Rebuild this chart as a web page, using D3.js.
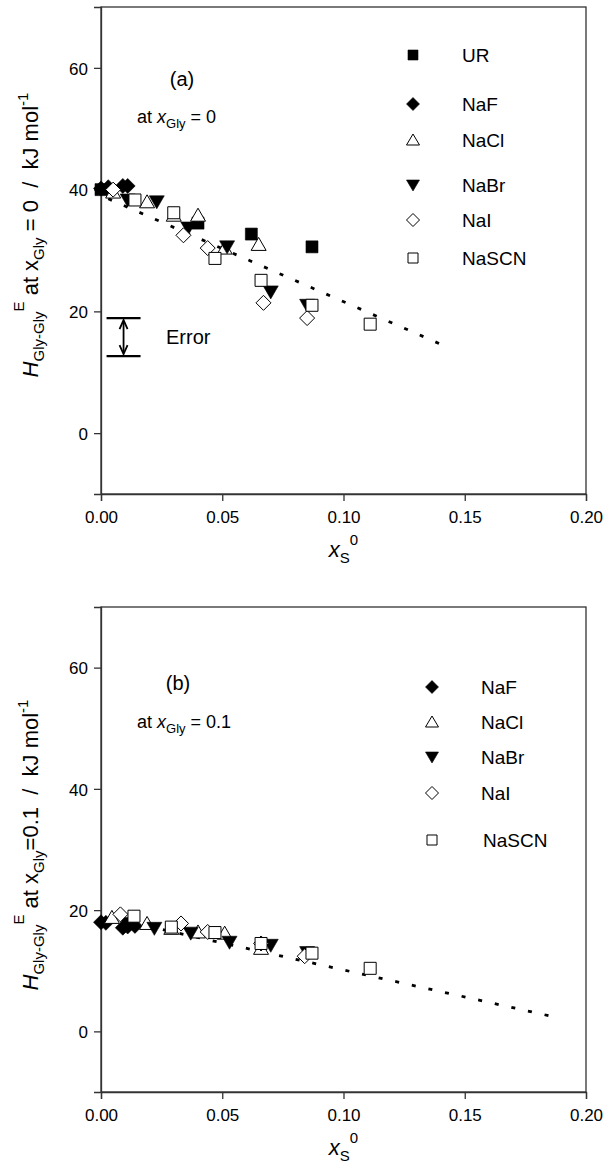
<!DOCTYPE html>
<html>
<head>
<meta charset="utf-8">
<script src="https://cdn.jsdelivr.net/npm/d3@7"></script>
<style>
  body { margin: 0; background: #fff; }
  svg { display: block; font-family: "Liberation Sans", Arial, sans-serif; }
  text { white-space: pre; fill: #000; }
</style>
</head>
<body>
<svg width="611" height="1173"></svg>
<script>
// Axis ticks
const xTicks = [0, 0.05, 0.10, 0.15, 0.20]
const yTicks = [0, 20, 40, 60]

// Panel (a): at x_Gly = 0
const urA    = [[0, 40.0], [0.040, 34.5], [0.062, 32.7], [0.087, 30.6]]
const nafA   = [[0, 40.2], [0.003, 40.4], [0.009, 40.6], [0.011, 40.6]]
const naclA  = [[0.005, 39.6], [0.019, 38.0], [0.030, 35.8], [0.040, 35.8], [0.051, 30.4], [0.065, 31.0]]
const nabrA  = [[0.011, 38.3], [0.023, 38.0], [0.036, 33.7], [0.052, 30.6], [0.070, 23.2], [0.085, 21.0]]
const naiA   = [[0.005, 40.0], [0.034, 32.5], [0.044, 30.4], [0.067, 21.4], [0.085, 18.9]]
const nascnA = [[0.014, 38.3], [0.030, 36.2], [0.047, 28.7], [0.066, 25.1], [0.087, 21.0], [0.111, 17.9]]
const fitA   = [[0.003, 38.5], [0.143, 14.1]]
const errorA = [0.0093, 12.65, 18.9]

// Panel (b): at x_Gly = 0.1
const nafB   = [[0, 18.0], [0.002, 17.9], [0.009, 17.1], [0.011, 17.3], [0.014, 17.4]]
const naclB  = [[0.0045, 18.8], [0.019, 17.8], [0.029, 17.0], [0.040, 16.4], [0.051, 16.2], [0.066, 13.7]]
const nabrB  = [[0.011, 17.8], [0.022, 17.0], [0.037, 16.2], [0.053, 14.7], [0.070, 14.2], [0.085, 13.0]]
const naiB   = [[0.008, 19.3], [0.033, 17.8], [0.044, 16.4], [0.066, 14.5], [0.084, 12.4]]
const nascnB = [[0.0136, 19.0], [0.029, 17.2], [0.047, 16.3], [0.066, 14.5], [0.087, 12.9], [0.111, 10.4]]
const fitB   = [[0.005, 18.6], [0.189, 2.2]]

const seriesA = [
  { name: 'UR', shape: 'square', fill: true, data: urA },
  { name: 'NaF', shape: 'diamond', fill: true, data: nafA },
  { name: 'NaCl', shape: 'up', fill: false, data: naclA },
  { name: 'NaBr', shape: 'down', fill: true, data: nabrA },
  { name: 'NaI', shape: 'diamond', fill: false, data: naiA },
  { name: 'NaSCN', shape: 'square', fill: false, data: nascnA },
]
const seriesB = [
  { name: 'NaF', shape: 'diamond', fill: true, data: nafB },
  { name: 'NaCl', shape: 'up', fill: false, data: naclB },
  { name: 'NaBr', shape: 'down', fill: true, data: nabrB },
  { name: 'NaI', shape: 'diamond', fill: false, data: naiB },
  { name: 'NaSCN', shape: 'square', fill: false, data: nascnB },
]

const svg = d3.select('svg')
const left = 101, right = 586

function shapePath(shape, s) {
  const h = s / 2
  if (shape === 'square') return `M${-h},${-h}H${h}V${h}H${-h}Z`
  if (shape === 'diamond') return `M0,${-h - 1.5}L${h + 1.5},0L0,${h + 1.5}L${-h - 1.5},0Z`
  if (shape === 'up') return `M0,${-h - 1}L${h + 1.5},${h}L${-h - 1.5},${h}Z`
  return `M0,${h + 1}L${h + 1.5},${-h}L${-h - 1.5},${-h}Z`
}

function drawMarker(g, d, x, y, size) {
  g.append('path')
    .attr('transform', `translate(${x},${y})`)
    .attr('d', shapePath(d.shape, size))
    .attr('fill', d.fill ? '#000' : '#fff')
    .attr('stroke', '#000')
    .attr('stroke-width', d.fill ? 0.6 : 1)
}

// parts: [text, size, dy, italic]
function richText(sel, parts) {
  parts.forEach(p => {
    sel.append('tspan')
      .attr('font-size', p[1])
      .attr('dy', p[2] || 0)
      .attr('font-style', p[3] ? 'italic' : null)
      .text(p[0])
  })
  return sel
}

function panel(top, bottom, series, fit, opts) {
  const x = d3.scaleLinear().domain([0, 0.2]).range([left, right])
  const y = d3.scaleLinear().domain([-10, 70]).range([bottom, top])
  const g = svg.append('g')

  // frame
  g.append('rect')
    .attr('x', left).attr('y', top)
    .attr('width', right - left).attr('height', bottom - top)
    .attr('fill', 'none').attr('stroke', '#333').attr('stroke-width', 1.3)

  const xAxis = g.append('g')
    .attr('transform', `translate(0,${bottom})`)
    .call(d3.axisBottom(x).tickValues(xTicks).tickFormat(d3.format('.2f')).tickSize(7).tickPadding(10))
  const yAxis = g.append('g')
    .attr('transform', `translate(${left},0)`)
    .call(d3.axisLeft(y).tickValues(yTicks).tickSize(7).tickPadding(6))
  ;[xAxis, yAxis].forEach(a => {
    a.select('.domain').attr('stroke', '#333').attr('stroke-width', 1.3)
    a.selectAll('.tick line').attr('stroke', '#333').attr('stroke-width', 1.3)
    a.selectAll('.tick text').attr('font-size', 17).attr('font-family', '"Liberation Sans", Arial, sans-serif').attr('fill', '#000')
  })
  yAxis.selectAll('.tick text').attr('dy', '0.36em')

  // fitted dotted line
  g.append('path')
    .datum(fit)
    .attr('d', d3.line().x(d => x(d[0])).y(d => y(d[1])))
    .attr('fill', 'none').attr('stroke', '#000')
    .attr('stroke-width', 2.8).attr('stroke-dasharray', '4,13')

  // markers
  series.forEach(s => {
    s.data.forEach(d => drawMarker(g, s, x(d[0]), y(d[1]), 12))
  })

  // legend
  opts.legend.forEach((l, i) => {
    drawMarker(g, series[i], l[0], l[1], 10)
    g.append('text').attr('x', l[2]).attr('y', l[1]).attr('dy', '0.36em')
      .attr('font-size', 19).text(series[i].name)
  })

  // panel tag and condition
  g.append('text').attr('x', opts.tag[0]).attr('y', opts.tag[1])
    .attr('font-size', 20).attr('text-anchor', 'middle').text(opts.tag[2])
  richText(g.append('text').attr('x', opts.cond[0]).attr('y', opts.cond[1]), [
    ['at ', 18], ['x', 18, 0, true], ['Gly', 13, 5], [opts.cond[2], 18, -5],
  ])

  // x-axis title
  richText(g.append('text').attr('x', x(0.1)).attr('y', bottom + 63).attr('text-anchor', 'middle'), [
    ['x', 22, 0, true], ['S', 15, 6], ['0', 15, -18],
  ])

  // y-axis title
  richText(g.append('text')
    .attr('transform', `translate(38,${opts.ylabY}) rotate(-90)`)
    .attr('text-anchor', 'middle'), [
    ['H', 22, 0, true], ['Gly-Gly', 15, 6], ['E', 15, -20], [' at x', 22, 14],
    ['Gly', 15, 6], [opts.ylabTail, 22, -6], ['-1', 15, -10],
  ])

  return { x, y, g }
}

const pa = panel(7, 494, seriesA, fitA, {
  legend: [[413, 55, 462], [413, 104, 462], [413, 140, 462], [413, 185, 462], [413, 220, 462], [413, 258, 462]],
  tag: [182, 86, '(a)'],
  cond: [137, 123, ' = 0'],
  ylabY: 235,
  ylabTail: ' = 0  /  kJ mol',
})

// error bar in panel (a)
{
  const ex = pa.x(errorA[0]), lo = pa.y(errorA[1]), hi = pa.y(errorA[2])
  const g = pa.g
  ;[lo, hi].forEach(v => g.append('line')
    .attr('x1', ex - 17).attr('x2', ex + 17).attr('y1', v).attr('y2', v)
    .attr('stroke', '#000').attr('stroke-width', 2.2))
  g.append('line').attr('x1', ex).attr('x2', ex).attr('y1', hi + 3).attr('y2', lo - 3)
    .attr('stroke', '#000').attr('stroke-width', 1.8)
  g.append('path').attr('d', `M${ex - 4},${hi + 11}L${ex},${hi + 2}L${ex + 4},${hi + 11}`)
    .attr('fill', 'none').attr('stroke', '#000').attr('stroke-width', 1.8)
  g.append('path').attr('d', `M${ex - 4},${lo - 11}L${ex},${lo - 2}L${ex + 4},${lo - 11}`)
    .attr('fill', 'none').attr('stroke', '#000').attr('stroke-width', 1.8)
  g.append('text').attr('x', 166).attr('y', (lo + hi) / 2).attr('dy', '0.36em')
    .attr('font-size', 20).text('Error')
}

panel(607, 1092, seriesB, fitB, {
  legend: [[432, 687, 481], [432, 722, 481], [432, 757, 481], [432, 793, 481], [432, 840, 483]],
  tag: [178, 690, '(b)'],
  cond: [137, 728, ' = 0.1'],
  ylabY: 845,
  ylabTail: '=0.1  /  kJ mol',
})
</script>
</body>
</html>
